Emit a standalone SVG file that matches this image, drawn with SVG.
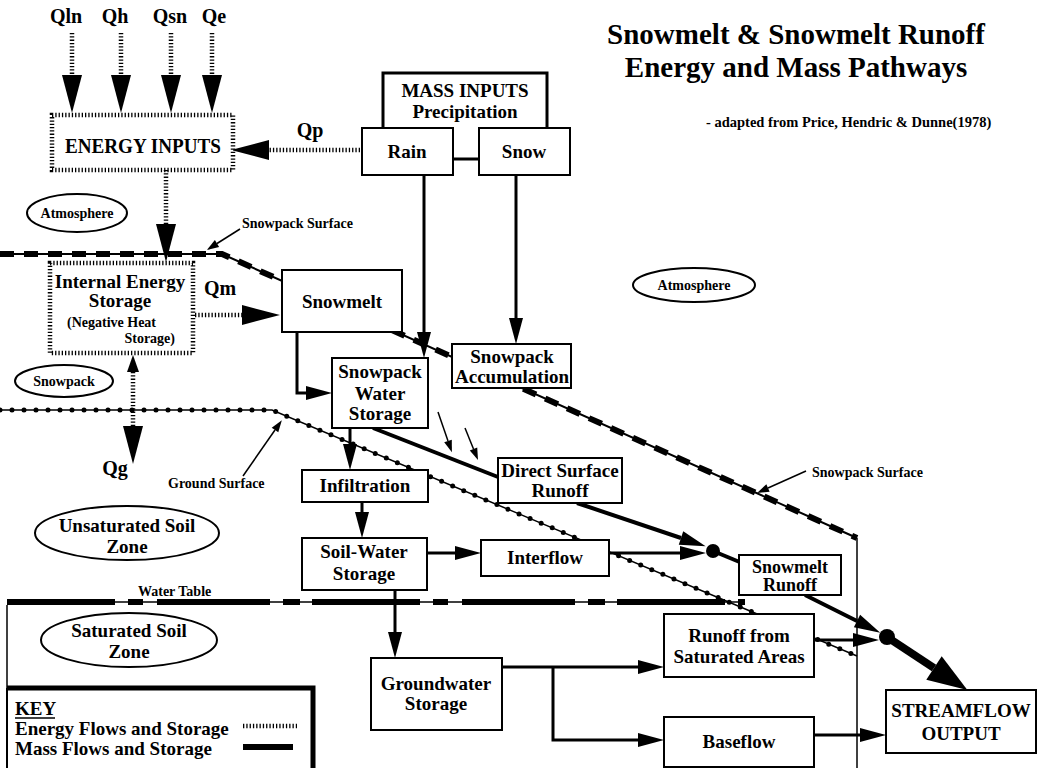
<svg xmlns="http://www.w3.org/2000/svg" width="1038" height="768" viewBox="0 0 1038 768">
<style>
text{font-family:"Liberation Serif","Times New Roman",serif;font-weight:bold;fill:#000}
.t19{font-size:19px}
.t20{font-size:20px}
.t14{font-size:14px}
.c{text-anchor:middle}
.box{fill:#fff;stroke:#000;stroke-width:2}
.ebox{fill:#fff;stroke:#000;stroke-width:4.5;stroke-dasharray:1.3 2}
.en{fill:none;stroke:#000;stroke-width:4.5;stroke-dasharray:1.3 2}
.ms{fill:none;stroke:#000;stroke-width:3}
.ms4{fill:none;stroke:#000;stroke-width:4}
.thin{fill:none;stroke:#000;stroke-width:1.5}
.oval{fill:#fff;stroke:#000;stroke-width:2}
.dot{fill:#000}
</style>
<defs>
<marker id="hE" markerUnits="userSpaceOnUse" markerWidth="38" markerHeight="20" refX="0" refY="10" orient="auto" overflow="visible"><path d="M0,0 L38,10 L0,20 Z"/></marker>
<marker id="hM" markerUnits="userSpaceOnUse" markerWidth="26" markerHeight="14" refX="0" refY="7" orient="auto" overflow="visible"><path d="M0,0 L26,7 L0,14 Z"/></marker>
<marker id="hS" markerUnits="userSpaceOnUse" markerWidth="12" markerHeight="8" refX="0" refY="4" orient="auto" overflow="visible"><path d="M0,0 L12,4 L0,8 Z"/></marker>
<marker id="hB" markerUnits="userSpaceOnUse" markerWidth="40" markerHeight="28" refX="0" refY="14" orient="auto" overflow="visible"><path d="M0,0 L40,14 L0,28 Z"/></marker>
<marker id="hU" markerUnits="userSpaceOnUse" markerWidth="17" markerHeight="12" refX="0" refY="6" orient="auto-start-reverse" overflow="visible"><path d="M0,0 L17,6 L0,12 Z"/></marker>
</defs>
<rect width="1038" height="768" fill="#fff"/>

<g id="title">
<text x="796" y="44" class="c" font-size="29">Snowmelt &amp; Snowmelt Runoff</text>
<text x="796" y="77" class="c" font-size="29">Energy and Mass Pathways</text>
<text x="706" y="127" font-size="14.5">- adapted from Price, Hendric &amp; Dunne(1978)</text>
</g>

<g id="boundaries">
<polyline points="0,254 222,254 857,538" fill="none" stroke="#000" stroke-width="2"/>
<polyline points="0,254 222,254 857,538" fill="none" stroke="#000" stroke-width="6" stroke-dasharray="14 10"/>
<line x1="857" y1="538" x2="857" y2="768" class="thin"/>
<polyline points="0,410 272,410 857,656" fill="none" stroke="#000" stroke-width="1.5"/>
<polyline points="0,410 272,410 857,656" fill="none" stroke="#000" stroke-width="5" stroke-linecap="round" stroke-dasharray="0 12"/>
<line x1="7" y1="602" x2="745" y2="602" stroke="#000" stroke-width="1.5"/>
<line x1="7" y1="602" x2="745" y2="602" stroke="#000" stroke-width="6" stroke-dasharray="108 13 15 14 113 13 17 12"/>
<line x1="7" y1="605" x2="7" y2="688" class="thin"/>
<text x="138" y="596" class="t14">Water Table</text>
<text x="242" y="228" class="t14">Snowpack Surface</text>
<text x="812" y="477" class="t14">Snowpack Surface</text>
<text x="168" y="488" class="t14">Ground Surface</text>
</g>

<g id="connectors">
<path d="M72,33 L72,75" class="en" marker-end="url(#hE)"/>
<path d="M121,33 L121,75" class="en" marker-end="url(#hE)"/>
<path d="M171,33 L171,75" class="en" marker-end="url(#hE)"/>
<path d="M212,33 L212,75" class="en" marker-end="url(#hE)"/>
<path d="M360,150 L269,150" class="en" marker-end="url(#hE)"/>
<path d="M166,170 L166,224" class="en" marker-end="url(#hE)"/>
<path d="M195,315 L242,315" class="en" marker-end="url(#hE)"/>
<path d="M133,372 L133,426" class="en" marker-start="url(#hU)" marker-end="url(#hE)"/>
<path d="M424,175 L424,332" class="ms" marker-end="url(#hM)"/>
<path d="M516,175 L516,318" class="ms" marker-end="url(#hM)"/>
<path d="M297,332 L297,393 L306,393" class="ms" marker-end="url(#hM)"/>
<path d="M350,428 L350,444" class="ms" marker-end="url(#hM)"/>
<path d="M373,428 L498,477" class="ms4"/>
<path d="M362,502 L362,512" class="ms" marker-end="url(#hM)"/>
<path d="M427,553 L455,553" class="ms" marker-end="url(#hM)"/>
<path d="M609,553 L680,553" class="ms" marker-end="url(#hM)"/>
<path d="M577,503 L681,538" class="ms4" marker-end="url(#hM)"/>
<path d="M713,551 L742,563" class="ms4"/>
<path d="M395,590 L395,632" class="ms" marker-end="url(#hM)"/>
<path d="M502,667 L638,667" class="ms" marker-end="url(#hM)"/>
<path d="M553,667 L553,740 L638,740" class="ms" marker-end="url(#hM)"/>
<path d="M814,640 L853,640" class="ms" marker-end="url(#hM)"/>
<path d="M805,595 L857,621" class="ms4" marker-end="url(#hM)"/>
<path d="M814,735 L860,735" class="ms" marker-end="url(#hM)"/>
<path d="M887,637 L934,668" fill="none" stroke="#000" stroke-width="8" marker-end="url(#hB)"/>
<path d="M240,229 L217,243.5" class="thin" marker-end="url(#hS)"/>
<path d="M806,471 L768,488" class="thin" marker-end="url(#hS)"/>
<path d="M243,476 L275,430" class="thin" marker-end="url(#hS)"/>
<path d="M438,412 L448,441" class="thin" marker-end="url(#hS)"/>
<path d="M465,428 L473.5,449" class="thin" marker-end="url(#hS)"/>
<circle cx="713" cy="551" r="7" class="dot"/>
<circle cx="887" cy="637" r="8" class="dot"/>
</g>

<g id="q-labels">
<text x="66" y="23" class="c t20">Qln</text>
<text x="115" y="23" class="c t20">Qh</text>
<text x="170" y="23" class="c t20">Qsn</text>
<text x="214" y="23" class="c t20">Qe</text>
<text x="310" y="137" class="c t20">Qp</text>
<text x="220" y="295" class="c t20">Qm</text>
<text x="115" y="475" class="c t20">Qg</text>
</g>

<g id="energy-inputs">
<rect x="52" y="115" width="181" height="55" class="ebox"/>
<text x="143" y="153" class="c" font-size="21" textLength="156" lengthAdjust="spacingAndGlyphs">ENERGY INPUTS</text>
</g>

<g id="mass-inputs">
<rect x="383" y="73" width="164" height="86" fill="#fff" stroke="#000" stroke-width="3"/>
<text x="465" y="97" class="c t19">MASS INPUTS</text>
<text x="465" y="118" class="c t19">Precipitation</text>
</g>
<g id="rain">
<rect x="362" y="128" width="91" height="47" class="box"/>
<text x="407" y="158" class="c t19">Rain</text>
</g>
<g id="snow">
<rect x="479" y="128" width="91" height="47" class="box"/>
<text x="524" y="158" class="c t19">Snow</text>
</g>

<g id="atmosphere-left">
<ellipse cx="77" cy="213" rx="50" ry="19" class="oval"/>
<text x="77" y="218" class="c t14">Atmosphere</text>
</g>
<g id="atmosphere-right">
<ellipse cx="694" cy="285" rx="61" ry="17" class="oval"/>
<text x="694" y="290" class="c t14">Atmosphere</text>
</g>
<g id="snowpack-zone">
<ellipse cx="64" cy="381" rx="49" ry="16" class="oval"/>
<text x="64" y="386" class="c t14">Snowpack</text>
</g>
<g id="unsaturated-zone">
<ellipse cx="127" cy="533" rx="92" ry="27" class="oval"/>
<text x="127" y="532" class="c t19">Unsaturated Soil</text>
<text x="127" y="553" class="c t19">Zone</text>
</g>
<g id="saturated-zone">
<ellipse cx="129" cy="640" rx="88" ry="27" class="oval"/>
<text x="129" y="637" class="c t19">Saturated Soil</text>
<text x="129" y="658" class="c t19">Zone</text>
</g>

<g id="internal-energy-storage">
<rect x="50" y="263" width="143" height="90" class="ebox"/>
<text x="120" y="288" class="c t19">Internal Energy</text>
<text x="120" y="307" class="c t19">Storage</text>
<text x="67" y="327" font-size="14">(Negative Heat</text>
<text x="175" y="343" font-size="14" text-anchor="end">Storage)</text>
</g>

<g id="snowmelt">
<rect x="282" y="270" width="120" height="62" class="box"/>
<text x="342" y="308" class="c t19">Snowmelt</text>
</g>
<g id="snowpack-accumulation">
<rect x="452" y="344" width="119" height="44" class="box"/>
<text x="512" y="363" class="c t19">Snowpack</text>
<text x="512" y="383" class="c t19">Accumulation</text>
</g>
<g id="snowpack-water-storage">
<rect x="332" y="358" width="96" height="70" class="box"/>
<text x="380" y="378" class="c t19">Snowpack</text>
<text x="380" y="400" class="c t19">Water</text>
<text x="380" y="420" class="c t19">Storage</text>
</g>
<g id="infiltration">
<rect x="302" y="470" width="126" height="32" class="box"/>
<text x="365" y="492" class="c t19">Infiltration</text>
</g>
<g id="direct-surface-runoff">
<rect x="498" y="458" width="124" height="45" class="box"/>
<text x="560" y="477" class="c t19">Direct Surface</text>
<text x="560" y="497" class="c t19">Runoff</text>
</g>
<g id="soil-water-storage">
<rect x="302" y="538" width="125" height="52" class="box"/>
<text x="364" y="558" class="c t19">Soil-Water</text>
<text x="364" y="580" class="c t19">Storage</text>
</g>
<g id="interflow">
<rect x="481" y="540" width="128" height="36" class="box"/>
<text x="545" y="564" class="c t19">Interflow</text>
</g>
<g id="snowmelt-runoff">
<rect x="739" y="555" width="102" height="40" class="box"/>
<text x="790" y="573" class="c" font-size="18">Snowmelt</text>
<text x="790" y="591" class="c" font-size="18">Runoff</text>
</g>
<g id="runoff-saturated">
<rect x="664" y="614" width="150" height="63" class="box"/>
<text x="739" y="642" class="c t19">Runoff from</text>
<text x="739" y="663" class="c t19">Saturated Areas</text>
</g>
<g id="groundwater-storage">
<rect x="371" y="658" width="131" height="72" class="box"/>
<text x="436" y="690" class="c t19">Groundwater</text>
<text x="436" y="710" class="c t19">Storage</text>
</g>
<g id="baseflow">
<rect x="664" y="717" width="150" height="50" class="box"/>
<text x="739" y="748" class="c t19">Baseflow</text>
</g>
<g id="streamflow-output">
<rect x="886" y="690" width="150" height="63" class="box"/>
<text x="961" y="717" class="c t19">STREAMFLOW</text>
<text x="961" y="740" class="c t19">OUTPUT</text>
</g>

<g id="key">
<path d="M7,688 L313,688 L313,768" fill="none" stroke="#000" stroke-width="5"/>
<line x1="7" y1="688" x2="7" y2="768" stroke="#000" stroke-width="2"/>
<text x="15" y="715" class="t19">KEY</text>
<line x1="15" y1="718" x2="55" y2="718" stroke="#000" stroke-width="1.5"/>
<text x="15" y="735" class="t19">Energy Flows and Storage</text>
<text x="15" y="755" class="t19">Mass Flows and Storage</text>
<line x1="243" y1="726" x2="297" y2="726" class="en"/>
<line x1="243" y1="747" x2="293" y2="747" stroke="#000" stroke-width="6"/>
</g>
</svg>
